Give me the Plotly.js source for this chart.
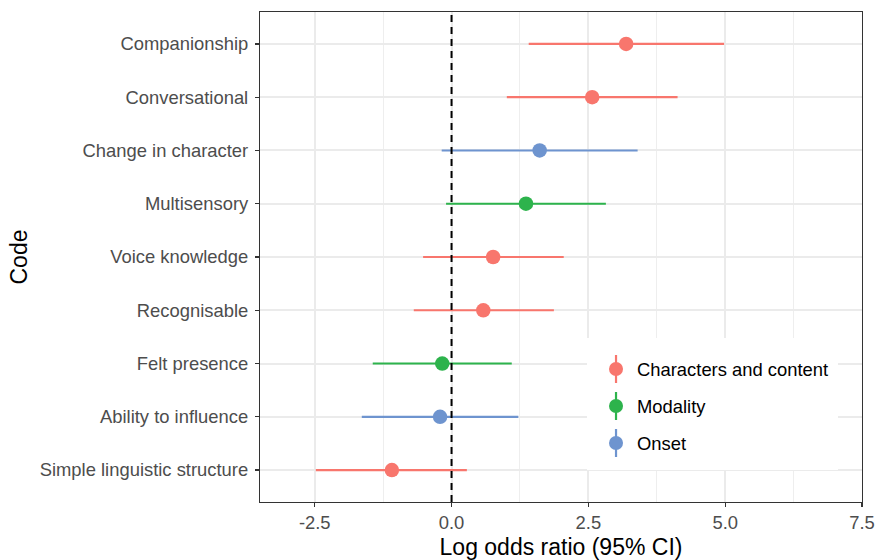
<!DOCTYPE html>
<html>
<head>
<meta charset="utf-8">
<script src="https://cdn.plot.ly/plotly-3.0.1.min.js"></script>
<style>
  html, body { margin: 0; padding: 0; background: #ffffff; }
  #chart { width: 878px; height: 560px; }
</style>
</head>
<body>
<div id="chart"></div>
<script>
// ---- Data (top to bottom as shown) ----
const codes = [
  "Companionship",
  "Conversational",
  "Change in character",
  "Multisensory",
  "Voice knowledge",
  "Recognisable",
  "Felt presence",
  "Ability to influence",
  "Simple linguistic structure"
];
const codeGroup = [
  "Characters and content",
  "Characters and content",
  "Onset",
  "Modality",
  "Characters and content",
  "Characters and content",
  "Modality",
  "Onset",
  "Characters and content"
];
const logOdds = [3.19, 2.57, 1.61, 1.36, 0.76, 0.58, -0.17, -0.21, -1.09];
const ciLow   = [1.41, 1.01, -0.18, -0.10, -0.52, -0.69, -1.44, -1.64, -2.48];
const ciHigh  = [4.98, 4.13, 3.40, 2.82, 2.05, 1.87, 1.10, 1.22, 0.28];

const groups = ["Characters and content", "Modality", "Onset"];
const groupColors = ["#F8766D", "#2DB34C", "#6E94CF"];

const xTickVals = [-2.5, 0, 2.5, 5, 7.5];
const xTickText = ["-2.5", "0.0", "2.5", "5.0", "7.5"];
const xMinorVals = [-1.25, 1.25, 3.75, 6.25];

const FONT = "Liberation Sans, Arial, sans-serif";

// ---- Traces ----
const traces = groups.map((g, gi) => {
  const idx = codes.map((_, i) => i).filter(i => codeGroup[i] === g);
  return {
    type: "scatter",
    mode: "markers",
    name: g,
    showlegend: false,
    x: idx.map(i => logOdds[i]),
    y: idx.map(i => codes[i]),
    marker: { color: groupColors[gi], size: 14.5, line: { width: 0 } },
    error_x: {
      type: "data",
      symmetric: false,
      array: idx.map(i => ciHigh[i] - logOdds[i]),
      arrayminus: idx.map(i => logOdds[i] - ciLow[i]),
      width: 0,
      thickness: 2.2,
      color: groupColors[gi]
    },
    hoverinfo: "x+y"
  };
});

// ---- Manual legend (pointrange glyphs) ----
const legX0 = 0.5432, legX1 = 0.9601, legY0 = 0.0653, legY1 = 0.3347;
const legItemY = [0.2714, 0.1959, 0.1204];
const legDotX = 0.5914, legTextX = 0.6229;

const shapes = [
  { type: "line", xref: "x", yref: "paper", x0: 0, x1: 0, y0: 0, y1: 1,
    line: { color: "#000000", width: 2, dash: "7px,5px" }, layer: "above" },
  { type: "rect", xref: "paper", yref: "paper", x0: legX0, x1: legX1, y0: legY0, y1: legY1,
    fillcolor: "#ffffff", line: { width: 0 }, layer: "above" }
];
const annotations = [];
groups.forEach((g, gi) => {
  shapes.push({
    type: "line", xref: "paper", yref: "paper",
    x0: legDotX, x1: legDotX,
    ysizemode: "pixel", yanchor: legItemY[gi], y0: -14, y1: 14,
    line: { color: groupColors[gi], width: 2.2 }, layer: "above"
  });
  shapes.push({
    type: "circle", xref: "paper", yref: "paper",
    xsizemode: "pixel", xanchor: legDotX, x0: -7, x1: 7,
    ysizemode: "pixel", yanchor: legItemY[gi], y0: -7, y1: 7,
    fillcolor: groupColors[gi], line: { width: 0 }, layer: "above"
  });
  annotations.push({
    xref: "paper", yref: "paper", x: legTextX, y: legItemY[gi],
    xanchor: "left", yanchor: "middle", showarrow: false,
    text: g, font: { size: 18.4, color: "#000000", family: FONT }
  });
});

const layout = {
  width: 878,
  height: 560,
  margin: { l: 260, r: 16, t: 12, b: 58 },
  paper_bgcolor: "#ffffff",
  plot_bgcolor: "#ffffff",
  font: { family: FONT, color: "#4D4D4D", size: 18.4 },
  showlegend: false,
  xaxis: {
    range: [-3.5, 7.5],
    tickmode: "array",
    tickvals: xTickVals,
    ticktext: xTickText,
    ticks: "outside",
    ticklen: 4,
    tickwidth: 1.1,
    tickcolor: "#333333",
    tickfont: { size: 18.4, color: "#4D4D4D" },
    showgrid: true,
    gridcolor: "#EBEBEB",
    gridwidth: 2,
    minor: { tickmode: "array", tickvals: xMinorVals, showgrid: true, gridcolor: "#EEEEEE", gridwidth: 1, ticks: "" },
    zeroline: false,
    showline: true,
    mirror: true,
    linecolor: "#333333",
    linewidth: 1.1,
    title: { text: "Log odds ratio (95% CI)", font: { size: 23, color: "#000000" }, standoff: 6 },
    automargin: false
  },
  yaxis: {
    type: "category",
    categoryorder: "array",
    categoryarray: codes.slice().reverse(),
    range: [-0.6, 8.6],
    ticks: "outside",
    ticklen: 4,
    tickwidth: 1.1,
    tickcolor: "#333333",
    tickfont: { size: 18.4, color: "#4D4D4D" },
    ticklabelstandoff: 3,
    showgrid: true,
    gridcolor: "#EBEBEB",
    gridwidth: 2,
    zeroline: false,
    showline: true,
    mirror: true,
    linecolor: "#333333",
    linewidth: 1.1,
    title: { text: "Code", font: { size: 23, color: "#000000" }, standoff: 5 },
    automargin: false
  },
  shapes: shapes,
  annotations: annotations
};

Plotly.newPlot("chart", traces, layout, { displayModeBar: false, staticPlot: true });
</script>
</body>
</html>
